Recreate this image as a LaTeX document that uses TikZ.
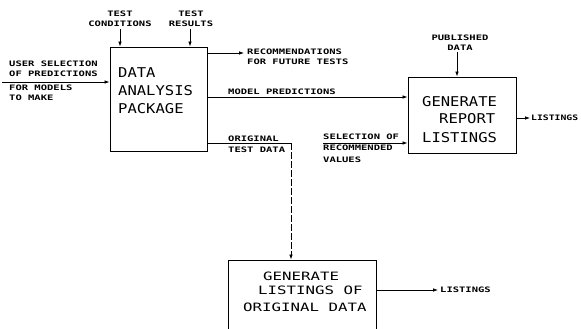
\documentclass[tikz,border=0pt]{standalone}
\usepackage{fontspec}
\newfontfamily\plotsmall[FakeStretch=1.4]{DejaVu Sans Mono}
\newfontfamily\plotsmalln[FakeStretch=1.3]{DejaVu Sans Mono}
\newfontfamily\plotbig[FakeStretch=1.15]{DejaVu Sans Mono}
\newfontfamily\plotmid[FakeStretch=1.37]{DejaVu Sans Mono}
\usetikzlibrary{arrows.meta}
\tikzset{
  box/.style={draw, line width=0.9pt, inner sep=0pt},
  lbl/.style={inner sep=0pt, align=left, font=\plotsmall\bfseries\fontsize{7.5}{10}\selectfont},
  lblc/.style={lbl, align=center},
  bigtxt/.style={inner sep=0pt, align=left, font=\plotbig\fontsize{13.5}{18}\selectfont},
  midtxt/.style={inner sep=0pt, align=left, font=\plotmid\fontsize{11.5}{14}\selectfont},
  conn/.style={line width=0.8pt},
  arr/.style={conn, -{Latex[length=5pt,width=3.6pt]}},
}
\begin{document}
\begin{tikzpicture}[x=1pt,y=-1pt]
\path[use as bounding box] (0,0) rectangle (581,329);
\clip (0,0) rectangle (581,329);
\fill[white] (0,0) rectangle (581,329);

% boxes
\node[box, minimum width=97pt, minimum height=104pt] (b1) at (158.5,99) {};
\node[box, minimum width=108pt, minimum height=76pt] (b2) at (462,115) {};
\node[box, minimum width=148pt, minimum height=90pt] (b3) at (302,305) {};

% box texts
\node[bigtxt, anchor=north west] (t1) at (118,67) {DATA\\ANALYSIS\\PACKAGE};
\node[bigtxt, anchor=north west] (t2) at (422,96) {GENERATE\\[-1pt]\hspace*{17pt}REPORT\\[1pt]LISTINGS};
\node[midtxt, anchor=north west] (t3) at (243,271.5) {\hspace*{20pt}GENERATE\\\hspace*{15pt}LISTINGS OF\\[3pt]ORIGINAL DATA};

% labels
\node[lblc] (tc) at (120,19) {TEST\\CONDITIONS};
\node[lblc] (tr) at (191,19) {TEST\\RESULTS};
\node[lbl, anchor=north west] (us) at (9,60.3) {USER SELECTION\\OF PREDICTIONS\\[4pt]FOR MODELS\\TO MAKE};
\node[lbl, anchor=north west] (rf) at (247,48.3) {RECOMMENDATIONS\\FOR FUTURE TESTS};
\node[lbl, anchor=base west] (mp) at (228,94) {MODEL PREDICTIONS};
\node[lbl, anchor=north west] (ot) at (228,135.5) {ORIGINAL\\[1pt]TEST DATA};
\node[lblc] (pd) at (460,42.5) {PUBLISHED\\DATA};
\node[lbl, anchor=north west] (sr) at (323,133.3) {SELECTION OF\\[1.5pt]RECOMMENDED\\[1.5pt]VALUES};
\node[lbl, anchor=west, font=\plotsmalln\bfseries\fontsize{7.5}{10}\selectfont] (l2) at (531,118) {LISTINGS};
\node[lbl, anchor=west] (l3) at (440,290) {LISTINGS};

% helper coordinates
\coordinate (usin) at (2,82);
\coordinate (rfend) at (244,53);
\coordinate (mpy) at (0,97);
\coordinate (otc) at (291,143);
\coordinate (sry) at (0,143);
\coordinate (srs) at (323,143);
\coordinate (l2y) at (0,118);
\coordinate (l3y) at (0,290);

% connectors
\draw[arr] ([yshift=-2pt]tc.south) -- (tc.south |- b1.north);
\draw[arr] ([yshift=-2pt]tr.south -| 190,0) -- (b1.north -| 190,0);
\draw[arr] (usin) -- (usin -| b1.west);
\draw[arr] (b1.east |- rfend) -- (rfend);
\draw[arr] (b1.east |- mpy) -- (b2.west |- mpy);
\draw[conn] (b1.east |- otc) -- (otc);
\draw[arr, dash pattern=on 7pt off 2pt] (otc) -- (otc |- b3.north);
\draw[arr] ([yshift=-2pt]pd.south -| 457,0) -- (b2.north -| 457,0);
\draw[arr] (srs) -- (b2.west |- sry);
\draw[arr] (b2.east |- l2y) -- ([xshift=-1pt]l2.west);
\draw[arr] (b3.east |- l3y) -- ([xshift=-2pt]l3.west);
\end{tikzpicture}
\end{document}
